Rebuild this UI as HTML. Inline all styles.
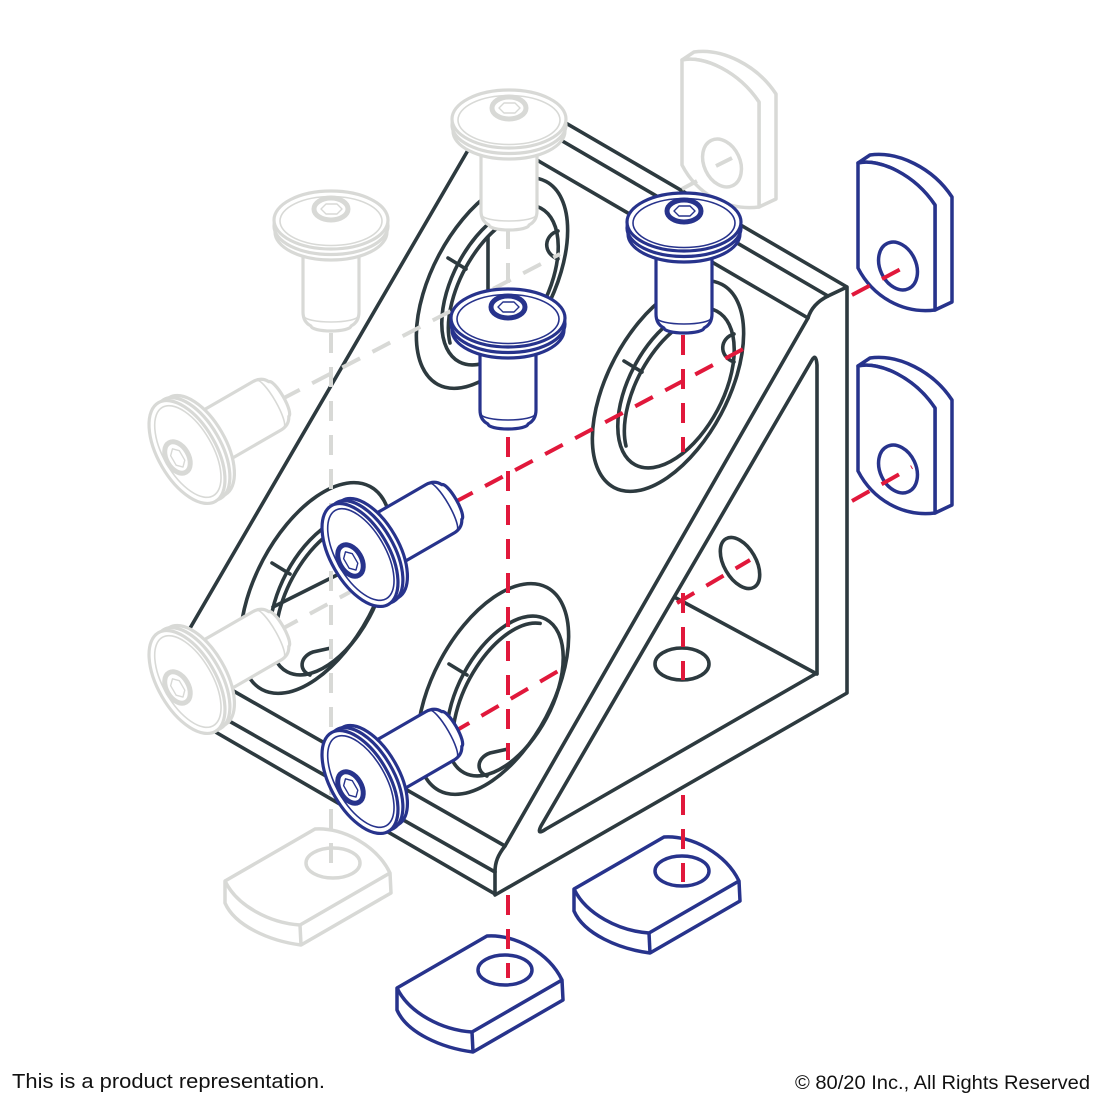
<!DOCTYPE html>
<html><head><meta charset="utf-8"><title>Bracket</title>
<style>html,body{margin:0;padding:0;background:#fff;width:1100px;height:1100px;overflow:hidden}svg{display:block}</style>
</head><body>
<svg width="1100" height="1100" viewBox="0 0 1100 1100" xmlns="http://www.w3.org/2000/svg">
<defs>
<g id="vb" fill="#fff" stroke="currentColor" stroke-width="3.2" stroke-linejoin="round" stroke-linecap="round">
<path d="M-28,28 L-28,92 Q-28,102 -20,106 A20,5 0 0 0 20,106 Q28,102 28,92 L28,28 Z"/>
<path d="M-27,96 A27,6 0 0 0 27,96" fill="none" stroke-width="1.6"/>
<ellipse cx="0" cy="12" rx="56" ry="28"/>
<ellipse cx="0" cy="6" rx="57" ry="28.5"/>
<ellipse cx="0" cy="0" rx="57" ry="29"/>
<ellipse cx="0" cy="1" rx="51" ry="24.5" fill="none" stroke-width="1.6"/>
<ellipse cx="0" cy="-11" rx="17" ry="11" fill="none" stroke-width="5"/>
<path d="M-10,-11 L-5,-16 L6,-16 L11,-11 L6,-6 L-5,-6 Z" stroke-width="1.4"/>
</g>
<g id="holeB" fill="none" stroke="#2d3a3f" stroke-width="3.6" stroke-linecap="round">
<ellipse cx="0" cy="0" rx="60" ry="115" transform="rotate(28)"/>
<ellipse cx="12" cy="7" rx="47" ry="87" transform="rotate(28 12 7)"/>
<path d="M-38.5,64.9 A44,84 28 0 1 47.1,-65.6"/>
<path d="M-44,-25 L-26,-14"/>
<path d="M-6,87 C-17,83 -17,69 -3,64 L15,60"/>
</g>
<g id="holeT" fill="none" stroke="#2d3a3f" stroke-width="3.6" stroke-linecap="round">
<ellipse cx="0" cy="0" rx="60" ry="115" transform="rotate(28)"/>
<ellipse cx="8" cy="2" rx="47" ry="87" transform="rotate(28 8 2)"/>
<path d="M-42,60 A44,84 28 0 1 43,-70"/>
<path d="M-44,-25 L-26,-14"/>
<path d="M66,-52 C52,-48 50,-30 66,-24"/>
</g>
<g id="rn" fill="#fff" stroke="currentColor" stroke-width="3.5" stroke-linejoin="round">
<path d="M0,0 L12,-8 C40,-12 75,5 94,34 L94,139 L77,147 L77,42 C57,12 22,-5 0,0 Z"/>
<path d="M0,0 C22,-5 57,12 77,42 L77,147 C45,151 15,134 0,105 Z"/>
<ellipse cx="40" cy="103" rx="18" ry="25" transform="rotate(-25 40 103)"/>
</g>
<g id="fn" fill="#fff" stroke="currentColor" stroke-width="3.5" stroke-linejoin="round">
<path d="M0,0 L90,-52 C118,-54 152,-35 165,-8 L166,12 L76,64 C45,60 10,45 0,22 Z"/>
<path d="M0,0 C12,25 45,42 75,44 L165,-8" fill="none"/>
<path d="M75,44 L76,64" fill="none"/>
<ellipse cx="108" cy="-18" rx="27" ry="15"/>
</g>
</defs>

<!-- Bracket -->
<g fill="none" stroke="#2d3a3f" stroke-width="3.6" stroke-linecap="round" stroke-linejoin="round">
<path d="M478,133 L182,642"/>
<path d="M540,108 L847,287 L847,693 L495,895 L495,872 C495,862 498,855 505,846 L808,318 C811,308 818,301 828,296 L847,287"/>
<path d="M540,128 L828,296"/>
<path d="M530,156 L808,318"/>
<path d="M230,689 L505,846"/>
<path d="M222,717 L495,872"/>
<path d="M212,730 L495,894"/>
<path d="M817,365 L817,673 L546,829 Q536,836 541,826 L812,360 Q816,353 817,365 Z"/>
<path d="M676,598 L817,674"/>
<ellipse cx="740" cy="563" rx="16" ry="28" transform="rotate(-30 740 563)"/>
<ellipse cx="682" cy="664" rx="27" ry="16"/>
<path d="M488,237 L488,290"/>
<path d="M273,607 L337,575"/>
</g>
<use href="#holeT" transform="translate(492,283)"/>
<use href="#holeT" transform="translate(668,386)"/>
<use href="#holeB" transform="translate(316,588)"/>
<use href="#holeB" transform="translate(493,689)"/>

<!-- gray nuts -->
<use href="#rn" transform="translate(682,60)" style="color:#d8d9d6"/>
<use href="#fn" transform="translate(225,881)" style="color:#d8d9d6"/>

<!-- gray dashes -->
<g fill="none" stroke="#d8d9d6" stroke-width="4" stroke-dasharray="20 14">
<path d="M508,229 L508,292"/>
<path d="M282,399 L560,254"/>
<path d="M331,333 L331,877"/>
<path d="M280,630 L350,592"/>
</g>
<g fill="none" stroke="#d8d9d6" stroke-width="4">
<path d="M716,166 L732,158"/>
<path d="M682,189 L697,181"/>
</g>

<!-- red dashes -->
<g fill="none" stroke="#e1183b" stroke-width="4" stroke-dasharray="20 14">
<path d="M508,437 L508,760"/>
<path d="M683,335 L683,452"/>
<path d="M683,593 L683,680"/>
<path d="M455,502 L745,348"/>
<path d="M452,733 L560,670"/>
<path d="M677,603 L750,560"/>
</g>

<!-- gray bolts -->
<g style="color:#d8d9d6">
<use href="#vb" transform="translate(509,119)"/>
<use href="#vb" transform="translate(331,220)"/>
<use href="#vb" transform="matrix(0.5,0.866,0.866,-0.5,187,452)"/>
<use href="#vb" transform="matrix(0.5,0.866,0.866,-0.5,187,682)"/>
</g>

<!-- blue bolts -->
<g style="color:#27338c">
<use href="#vb" transform="translate(508,318)"/>
<use href="#vb" transform="translate(684,222)"/>
<use href="#vb" transform="matrix(0.5,0.866,0.866,-0.5,360,555)"/>
<use href="#vb" transform="matrix(0.5,0.866,0.866,-0.5,360,782)"/>
</g>

<!-- blue nuts -->
<g style="color:#27338c">
<use href="#rn" transform="translate(858,163)"/>
<use href="#rn" transform="translate(858,366)"/>
<use href="#fn" transform="translate(397,988)"/>
<use href="#fn" transform="translate(574,889)"/>
</g>

<g fill="none" stroke="#e1183b" stroke-width="4" stroke-dasharray="20 14">
<path d="M508,895 L508,978"/>
<path d="M683,795 L683,882"/>
<path d="M852,295 L912,263"/>
<path d="M852,501 L912,467"/>
</g>

<text x="12" y="1088" font-family="'Liberation Sans', Arial, sans-serif" font-size="20" fill="#111" textLength="313" lengthAdjust="spacingAndGlyphs">This is a product representation.</text>
<text x="795" y="1089" font-family="'Liberation Sans', Arial, sans-serif" font-size="19" fill="#111" textLength="295" lengthAdjust="spacingAndGlyphs">© 80/20 Inc., All Rights Reserved</text>
</svg>
</body></html>
